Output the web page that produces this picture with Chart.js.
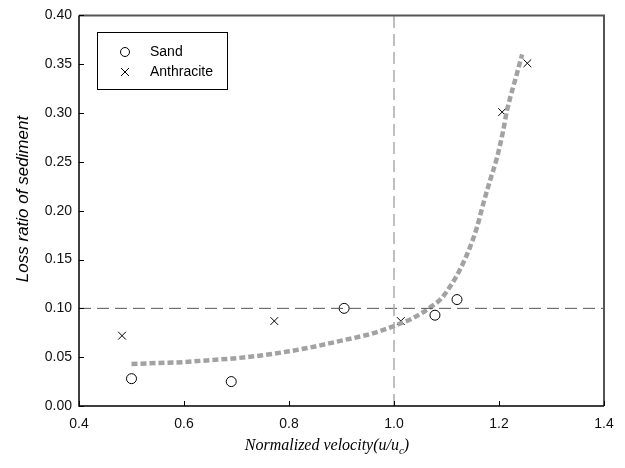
<!DOCTYPE html>
<html>
<head>
<meta charset="utf-8">
<script src="https://cdn.jsdelivr.net/npm/chart.js@4"></script>
<style>
    html, body { margin: 0; padding: 0; background: #fff; }
    #wrap { width: 625px; height: 468px; position: relative; }
</style>
</head>
<body>
<div id="wrap"><canvas id="lossChart"></canvas></div>
<script>
// ── Data ──────────────────────────────────────────────────────
const sandX = [0.50, 0.69, 0.905, 1.078, 1.12];
const sandY = [0.028, 0.025, 0.100, 0.093, 0.109];

const anthX = [0.482, 0.772, 1.013, 1.206, 1.254];
const anthY = [0.072, 0.087, 0.087, 0.301, 0.351];

// fitted trend curve (traced)
const fitX = [0.50, 0.55, 0.60, 0.65, 0.70, 0.75, 0.80, 0.85, 0.90, 0.95, 0.98, 1.005, 1.036, 1.069, 1.09, 1.11, 1.126, 1.145, 1.158, 1.17, 1.183, 1.196, 1.208, 1.215, 1.234, 1.244];
const fitY = [0.043, 0.044, 0.045, 0.047, 0.049, 0.052, 0.056, 0.061, 0.067, 0.073, 0.078, 0.083, 0.090, 0.101, 0.110, 0.125, 0.140, 0.163, 0.183, 0.207, 0.231, 0.254, 0.282, 0.302, 0.340, 0.360];

// reference lines
const refVX = [1.0, 1.0], refVY = [0.0, 0.4];
const refHX = [0.4, 1.4], refHY = [0.1, 0.1];

const xTicks = [0.4, 0.6, 0.8, 1.0, 1.2, 1.4];
const yTicks = [0.00, 0.05, 0.10, 0.15, 0.20, 0.25, 0.30, 0.35, 0.40];

const toPts = (xs, ys) => xs.map((x, i) => ({ x: x, y: ys[i] }));

// ── Frame, inward ticks, titles, legend ───────────────────────
const decor = {
    id: 'decor',
    afterDatasetsDraw(chart) {
        const ctx = chart.ctx;
        const a = chart.chartArea;
        const xs = chart.scales.x, ys = chart.scales.y;
        ctx.save();

        // frame
        ctx.lineWidth = 2;
        ctx.strokeStyle = '#555';
        ctx.beginPath();
        ctx.moveTo(a.left, a.top); ctx.lineTo(a.right, a.top); ctx.lineTo(a.right, a.bottom);
        ctx.stroke();
        ctx.lineWidth = 1.5;
        ctx.strokeStyle = '#000';
        ctx.beginPath();
        ctx.moveTo(a.left, a.top); ctx.lineTo(a.left, a.bottom); ctx.lineTo(a.right, a.bottom);
        ctx.stroke();

        // inward ticks
        ctx.lineWidth = 1;
        ctx.beginPath();
        xTicks.forEach(v => {
            const px = Math.round(xs.getPixelForValue(v)) + 0.5;
            ctx.moveTo(px, a.bottom); ctx.lineTo(px, a.bottom - 5);
        });
        yTicks.forEach(v => {
            const py = Math.round(ys.getPixelForValue(v)) + 0.5;
            ctx.moveTo(a.left, py); ctx.lineTo(a.left + 5, py);
        });
        ctx.stroke();

        // y title
        ctx.fillStyle = '#000';
        ctx.font = 'italic 17px "Liberation Sans", Arial, sans-serif';
        ctx.textAlign = 'center';
        ctx.textBaseline = 'middle';
        ctx.translate(23, 199);
        ctx.rotate(-Math.PI / 2);
        ctx.fillText('Loss ratio of sediment', 0, 0);
        ctx.setTransform(1, 0, 0, 1, 0, 0);

        // x title with subscript
        const main = 'Normalized velocity(u/u';
        ctx.font = 'italic 16px "Liberation Serif", "Times New Roman", serif';
        ctx.textAlign = 'left';
        ctx.textBaseline = 'alphabetic';
        const w1 = ctx.measureText(main).width;
        ctx.font = 'italic 11px "Liberation Serif", "Times New Roman", serif';
        const w2 = ctx.measureText('c').width;
        ctx.font = 'italic 16px "Liberation Serif", "Times New Roman", serif';
        const w3 = ctx.measureText(')').width;
        let x0 = 327 - (w1 + w2 + w3) / 2;
        const base = 450;
        ctx.fillText(main, x0, base);
        ctx.font = 'italic 11px "Liberation Serif", "Times New Roman", serif';
        ctx.fillText('c', x0 + w1, base + 4);
        ctx.font = 'italic 16px "Liberation Serif", "Times New Roman", serif';
        ctx.fillText(')', x0 + w1 + w2, base);

        // legend box
        ctx.lineWidth = 1;
        ctx.strokeStyle = '#000';
        ctx.fillStyle = '#fff';
        ctx.fillRect(97.5, 32.5, 130, 57);
        ctx.strokeRect(97.5, 32.5, 130, 57);
        ctx.beginPath();
        ctx.arc(125, 52, 4.5, 0, Math.PI * 2);
        ctx.stroke();
        ctx.beginPath();
        ctx.moveTo(121, 68); ctx.lineTo(129, 76);
        ctx.moveTo(129, 68); ctx.lineTo(121, 76);
        ctx.stroke();
        ctx.fillStyle = '#000';
        ctx.font = '14px "Liberation Sans", Arial, sans-serif';
        ctx.textBaseline = 'middle';
        ctx.fillText('Sand', 150, 52);
        ctx.fillText('Anthracite', 150, 72);

        ctx.restore();
    }
};

// ── Chart init ────────────────────────────────────────────────
new Chart(document.getElementById('lossChart'), {
    type: 'scatter',
    data: {
        datasets: [
            {
                label: 'ref-v',
                data: toPts(refVX, refVY),
                showLine: true,
                borderColor: '#aaa',
                borderWidth: 1.5,
                borderDash: [12, 6],
                pointRadius: 0
            },
            {
                label: 'ref-h',
                data: toPts(refHX, refHY),
                showLine: true,
                borderColor: '#555',
                borderWidth: 1,
                borderDash: [12, 6],
                pointRadius: 0
            },
            {
                label: 'Fit',
                data: toPts(fitX, fitY),
                showLine: true,
                cubicInterpolationMode: 'monotone',
                borderColor: '#a2a2a2',
                borderWidth: 4.5,
                borderDash: [6, 3],
                pointRadius: 0
            },
            {
                label: 'Sand',
                data: toPts(sandX, sandY),
                pointStyle: 'circle',
                pointRadius: 5,
                borderColor: '#000',
                borderWidth: 1,
                backgroundColor: '#fff'
            },
            {
                label: 'Anthracite',
                data: toPts(anthX, anthY),
                pointStyle: 'crossRot',
                pointRadius: 5.5,
                borderColor: '#000',
                borderWidth: 1
            }
        ]
    },
    options: {
        responsive: true,
        maintainAspectRatio: false,
        animation: false,
        layout: { padding: { top: 14, right: 21, left: 0, bottom: 0 } },
        plugins: { legend: { display: false }, tooltip: { enabled: false } },
        scales: {
            x: {
                type: 'linear',
                min: 0.4, max: 1.4,
                afterBuildTicks: s => { s.ticks = xTicks.map(v => ({ value: v })); },
                afterFit: s => { s.height = 62; },
                grid: { display: false, drawTicks: false },
                border: { display: false },
                ticks: {
                    color: '#111',
                    padding: 10,
                    font: { family: '"Liberation Sans", Arial', size: 14 },
                    callback: v => v.toFixed(1)
                }
            },
            y: {
                type: 'linear',
                min: 0, max: 0.4,
                afterBuildTicks: s => { s.ticks = yTicks.map(v => ({ value: v })); },
                afterFit: s => { s.width = 79; },
                grid: { display: false, drawTicks: false },
                border: { display: false },
                ticks: {
                    color: '#111',
                    padding: 7,
                    font: { family: '"Liberation Sans", Arial', size: 14 },
                    callback: v => v.toFixed(2)
                }
            }
        }
    },
    plugins: [decor]
});
</script>
</body>
</html>
